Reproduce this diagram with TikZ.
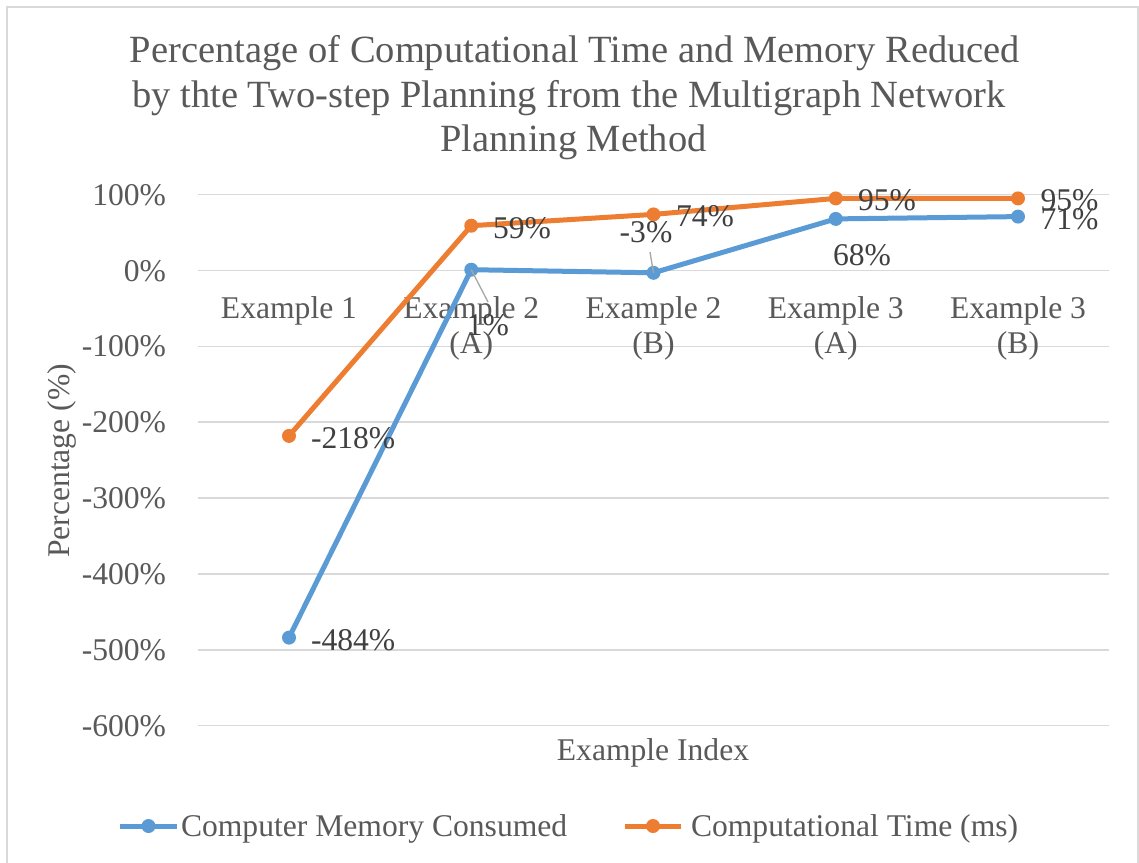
\documentclass[tikz,border=0pt]{standalone}
\usepackage{fontspec}
\setmainfont{Liberation Serif}
\definecolor{memblue}{RGB}{91,155,213}
\definecolor{timeorange}{RGB}{237,125,49}
\definecolor{axisgray}{RGB}{89,89,89}
\definecolor{labelgray}{RGB}{64,64,64}
\definecolor{gridgray}{RGB}{217,217,217}
\definecolor{leadergray}{RGB}{166,166,166}
\tikzset{
  txt/.style={inner sep=0pt, outer sep=0pt, font=\fontsize{31.6}{37}\selectfont},
  axistext/.style={txt, text=axisgray},
  titletext/.style={inner sep=0pt, font=\fontsize{38.5}{46}\selectfont, text=axisgray, anchor=base},
  datatext/.style={txt, text=labelgray},
  gridline/.style={draw=gridgray, line width=1.5pt},
  frameline/.style={draw=gridgray, line width=2pt},
  memline/.style={draw=memblue, line width=5pt, line join=round, line cap=round},
  timeline/.style={draw=timeorange, line width=5pt, line join=round, line cap=round},
  leader/.style={draw=leadergray, line width=1.3pt},
}
\begin{document}
\begin{tikzpicture}[x=1pt, y=-1pt]
\useasboundingbox (0,0) rectangle (1139,862);
\fill[white] (0,0) rectangle (1139,862);
% chart frame (bottom edge falls outside the page)
\draw[frameline] (7,880) -- (7,7) -- (1138,7) -- (1138,880);

% title
\node[titletext] (t1) at (575,62) {Percentage of Computational Time and Memory Reduced};
\node[titletext] (t2) at (569,107) {by thte Two-step Planning from the Multigraph Network};
\node[titletext] (t3) at (573.5,151) {Planning Method};

% horizontal grid and value axis labels
\foreach \v/\lab in {100/100\%, 0/0\%, -100/-100\%, -200/-200\%, -300/-300\%, -400/-400\%, -500/-500\%, -600/-600\%}{
  \pgfmathsetmacro{\yy}{270.5-0.7585*\v}
  \draw[gridline] (197.9,\yy) -- (1109.1,\yy);
  \node[axistext, anchor=base east] (y\v) at (166,\yy+10.6) {\lab};
}

% category labels
\node[axistext, anchor=base] (c1) at (289,318.5) {Example 1};
\node[axistext, anchor=base] (c2a) at (471.25,318.5) {Example 2};
\node[axistext, anchor=base] (c2b) at (471.25,353) {(A)};
\node[axistext, anchor=base] (c3a) at (653.5,318.5) {Example 2};
\node[axistext, anchor=base] (c3b) at (653.5,353) {(B)};
\node[axistext, anchor=base] (c4a) at (835.75,318.5) {Example 3};
\node[axistext, anchor=base] (c4b) at (835.75,353) {(A)};
\node[axistext, anchor=base] (c5a) at (1018,318.5) {Example 3};
\node[axistext, anchor=base] (c5b) at (1018,353) {(B)};

% axis titles
\node[axistext, anchor=base] (xtitle) at (653,760.5) {Example Index};
\node[axistext, rotate=90] (ytitle) at (62,461) {Percentage (\%)};

% data points
\coordinate (m1) at (289,637.6);
\coordinate (m2) at (471.25,269.7);
\coordinate (m3) at (653.5,272.8);
\coordinate (m4) at (835.75,218.9);
\coordinate (m5) at (1018,216.6);
\coordinate (s1) at (289,435.9);
\coordinate (s2) at (471.25,225.7);
\coordinate (s3) at (653.5,214.4);
\coordinate (s4) at (835.75,198.4);
\coordinate (s5) at (1018,198.4);

% memory series
\draw[memline] (m1) -- (m2) -- (m3) -- (m4) -- (m5);
\foreach \p in {m1,m2,m3,m4,m5}{\fill[memblue] (\p) circle (7pt);}
% time series
\draw[timeline] (s1) -- (s2) -- (s3) -- (s4) -- (s5);
\foreach \p in {s1,s2,s3,s4,s5}{\fill[timeorange] (\p) circle (7pt);}

% leader lines for moved labels
\coordinate (q2) at (488,302);
\coordinate (q3) at (650,252);
\draw[leader] (m2) -- (q2);
\draw[leader] (m3) -- (q3);

% data labels: memory
\node[datatext, anchor=base west] (lm1) at (311,650.1) {-484\%};
\node[datatext, anchor=base] (lm2) at (488,335.5) {1\%};
\node[datatext, anchor=base] (lm3) at (646,242.5) {-3\%};
\node[datatext, anchor=base] (lm4) at (862,265.5) {68\%};
\node[datatext, anchor=base west] (lm5) at (1040.5,229.1) {71\%};
% data labels: time
\node[datatext, anchor=base west] (ls1) at (311,448.4) {-218\%};
\node[datatext, anchor=base west] (ls2) at (493,238.2) {59\%};
\node[datatext, anchor=base west] (ls3) at (676,226.9) {74\%};
\node[datatext, anchor=base west] (ls4) at (858,210.9) {95\%};
\node[datatext, anchor=base west] (ls5) at (1040.5,210.9) {95\%};

% legend
\coordinate (lg1a) at (120,826);
\coordinate (lg1b) at (177,826);
\coordinate (lg2a) at (625,826);
\coordinate (lg2b) at (681,826);
\draw[memline, line cap=butt] (lg1a) -- (lg1b);
\fill[memblue] (148.5,826) circle (7pt);
\node[axistext, anchor=base west] (leg1) at (181,836.5) {Computer Memory Consumed};
\draw[timeline, line cap=butt] (lg2a) -- (lg2b);
\fill[timeorange] (653,826) circle (7pt);
\node[axistext, anchor=base west] (leg2) at (691,836.5) {Computational Time (ms)};
\end{tikzpicture}
\end{document}
